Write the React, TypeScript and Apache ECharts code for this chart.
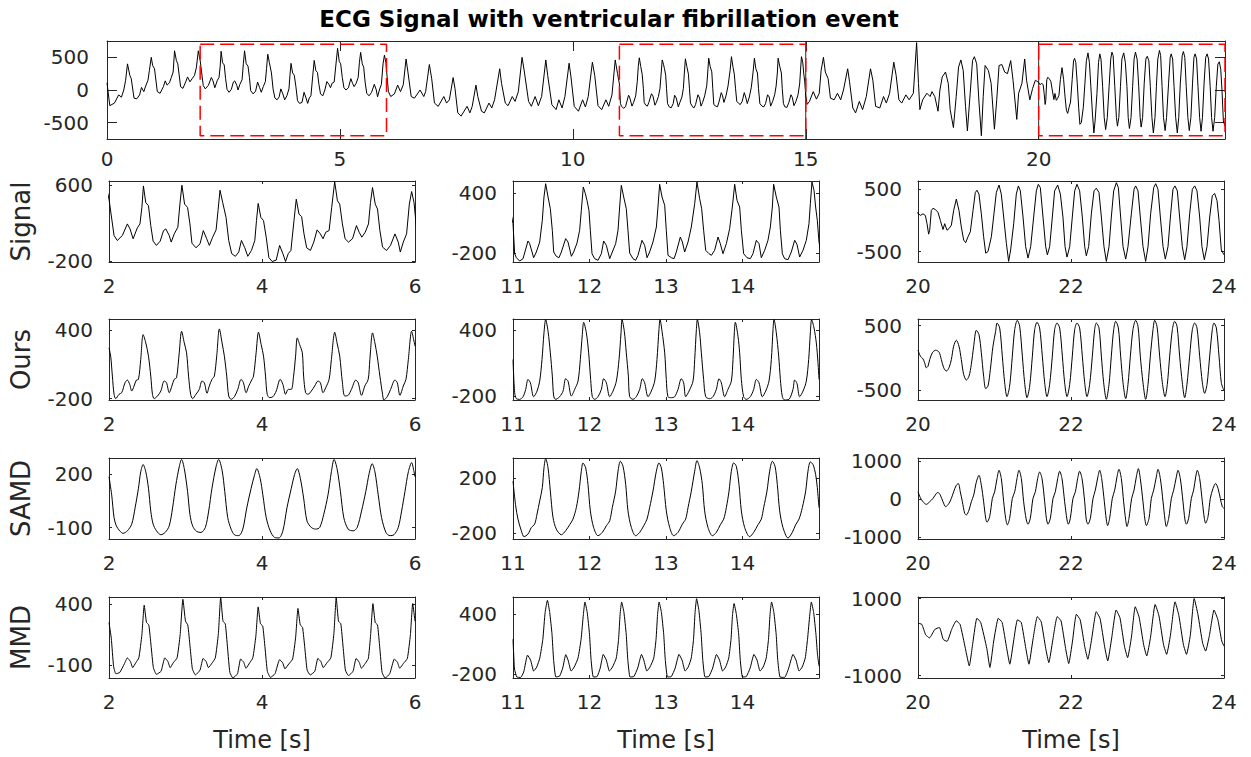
import { useEffect, useRef } from "react";
import * as echarts from "echarts";

type Pt = [number, number];

// Recorded ECG, 0–24 s (time [s], amplitude)
const signal: Pt[] = [
  [0.00,110],[0.06,-240],[0.16,-200],[0.25,-75],[0.31,-110],[0.36,0],[0.40,150],[0.44,400],[0.49,225],[0.52,175],
  [0.58,-125],[0.64,-135],[0.70,-75],[0.74,40],[0.79,-25],[0.83,60],[0.88,150],[0.91,300],[0.95,500],[0.98,375],
  [1.02,325],[1.08,-25],[1.14,-50],[1.21,50],[1.25,140],[1.29,75],[1.34,110],[1.38,190],[1.42,275],[1.45,600],
  [1.49,450],[1.52,400],[1.58,50],[1.63,25],[1.69,125],[1.73,200],[1.78,125],[1.83,175],[1.88,225],[1.92,350],[1.96,600],
  [2.000,453],[2.066,69],[2.109,17],[2.175,70],[2.24,192],[2.275,139],[2.315,35],[2.37,150],[2.405,192],[2.43,366],
  [2.45,593],[2.48,418],[2.516,384],[2.546,174],[2.577,10],[2.62,-35],[2.669,10],[2.713,122],[2.743,139],[2.787,70],
  [2.813,0],[2.853,87],[2.90,157],[2.927,401],[2.953,600],[2.988,401],[3.027,366],[3.058,192],[3.084,-11],[3.137,-60],
  [3.19,-18],[3.233,122],[3.277,35],[3.312,-35],[3.355,52],[3.40,129],[3.425,331],[3.451,548],[3.486,419],[3.53,261],
  [3.565,17],[3.604,-122],[3.652,-150],[3.696,-105],[3.731,17],[3.775,-60],[3.814,-150],[3.862,-88],[3.906,17],[3.928,227],
  [3.95,408],[3.985,261],[4.02,227],[4.055,52],[4.09,-164],[4.133,-205],[4.186,-190],[4.23,-35],[4.273,-122],[4.308,-205],
  [4.343,-122],[4.378,-88],[4.418,227],[4.448,453],[4.483,296],[4.518,268],[4.549,87],[4.584,-60],[4.633,-88],[4.677,0],
  [4.72,129],[4.763,87],[4.798,35],[4.833,104],[4.877,122],[4.911,366],[4.95,638],[4.986,436],[5.016,401],[5.051,192],
  [5.086,35],[5.13,0],[5.183,35],[5.235,174],[5.27,104],[5.305,52],[5.349,104],[5.392,192],[5.418,418],[5.445,576],
  [5.48,401],[5.51,349],[5.541,122],[5.576,-53],[5.628,-88],[5.68,-35],[5.738,87],[5.781,0],[5.808,-105],[5.847,0],
  [5.89,87],[5.926,401],[5.956,534],[5.987,419],[6.04,-20],[6.09,-100],[6.17,-60],[6.24,75],[6.30,-25],[6.36,80],
  [6.42,475],[6.46,275],[6.53,-100],[6.60,-125],[6.72,0],[6.80,-100],[6.84,-25],[6.92,390],[6.97,175],[7.03,-200],
  [7.11,-250],[7.23,-100],[7.29,-200],[7.35,-150],[7.43,190],[7.47,25],[7.53,-350],[7.60,-400],[7.73,-250],[7.79,-350],
  [7.84,-250],[7.92,75],[7.96,-100],[8.04,-325],[8.10,-350],[8.20,-200],[8.26,-275],[8.32,-150],[8.43,325],[8.47,100],
  [8.55,-200],[8.61,-240],[8.70,-100],[8.76,-175],[8.83,-25],[8.91,500],[8.96,275],[9.05,-175],[9.11,-250],[9.19,-100],
  [9.26,-240],[9.33,-100],[9.42,460],[9.46,225],[9.55,-225],[9.64,-300],[9.70,-150],[9.77,-275],[9.83,-100],[9.92,410],
  [9.96,200],[10.03,-250],[10.12,-325],[10.21,-150],[10.27,-260],[10.33,-100],[10.42,425],[10.47,225],[10.54,-240],[10.62,-300],
  [10.71,-150],[10.77,-250],[10.84,-75],[10.91,460],[10.96,250],
  [11.000,93],[11.022,-207],[11.044,-247],[11.087,-280],[11.131,-257],[11.196,-80],[11.218,-107],[11.270,-247],[11.305,-190],[11.349,-90],
  [11.383,127],[11.405,360],[11.427,493],[11.458,360],[11.488,243],[11.514,27],[11.532,-190],[11.566,-233],[11.601,-247],[11.632,-190],
  [11.688,-57],[11.719,-90],[11.763,-233],[11.793,-190],[11.837,-100],[11.871,27],[11.893,227],[11.919,460],[11.946,393],[11.967,327],
  [11.993,227],[12.011,27],[12.033,-207],[12.068,-257],[12.111,-273],[12.155,-207],[12.185,-80],[12.220,-123],[12.264,-257],[12.298,-190],
  [12.342,-107],[12.373,27],[12.394,260],[12.416,477],[12.447,360],[12.481,243],[12.503,27],[12.525,-200],[12.569,-257],[12.603,-273],
  [12.634,-223],[12.686,-73],[12.721,-123],[12.752,-247],[12.786,-190],[12.830,-90],[12.874,60],[12.895,260],[12.917,487],[12.948,360],
  [12.983,277],[13.004,27],[13.026,-223],[13.070,-247],[13.105,-257],[13.135,-190],[13.187,-40],[13.214,-90],[13.244,-190],[13.288,-90],
  [13.331,60],[13.375,293],[13.405,510],[13.440,343],[13.466,243],[13.492,27],[13.519,-173],[13.562,-207],[13.593,-223],[13.636,-173],
  [13.680,-40],[13.710,-107],[13.745,-207],[13.789,-107],[13.832,43],[13.867,260],[13.898,487],[13.928,327],[13.963,260],[13.985,27],
  [14.015,-207],[14.059,-247],[14.102,-257],[14.137,-207],[14.181,-73],[14.216,-107],[14.246,-247],[14.290,-173],[14.333,-73],[14.364,60],
  [14.390,260],[14.407,487],[14.442,360],[14.477,260],[14.495,27],[14.521,-207],[14.551,-257],[14.595,-267],[14.638,-190],[14.682,-73],
  [14.712,-113],[14.747,-240],[14.791,-173],[14.834,-73],[14.869,93],[14.887,293],[14.908,510],[14.935,427],[14.956,260],[14.978,127],
  [15.000,-90],[15.03,-220],[15.08,-175],[15.16,-25],[15.23,-140],[15.29,-50],[15.33,300],[15.38,500],[15.42,275],[15.48,175],
  [15.53,-125],[15.61,-150],[15.68,-50],[15.75,-150],[15.81,0],[15.90,325],[15.94,125],[16.01,-275],[16.07,-350],[16.15,-175],
  [16.22,-300],[16.30,-100],[16.39,325],[16.44,150],[16.50,-250],[16.59,-275],[16.67,-100],[16.73,-200],[16.80,-50],[16.89,425],
  [16.94,225],[17.00,-150],[17.06,-200],[17.15,-75],[17.22,-150],[17.31,-50],[17.38,725],[17.42,100],[17.45,-300],[17.51,-150],
  [17.60,-50],[17.67,-100],[17.71,-25],[17.77,-100],[17.84,-325],[17.88,0],[17.93,200],[18.00,275],[18.06,100],[18.10,-300],
  [18.17,-575],[18.23,-100],[18.28,350],[18.33,460],[18.38,300],[18.43,-250],[18.47,-625],[18.53,-50],[18.58,450],[18.62,510],
  [18.67,400],[18.72,-200],[18.77,-700],[18.81,-100],[18.85,375],[18.92,300],[18.98,100],[19.05,-600],[19.10,-150],[19.15,375],
  [19.21,390],[19.27,275],[19.33,250],[19.40,450],[19.45,150],[19.53,-450],[19.57,-50],[19.64,100],[19.70,475],[19.74,150],
  [19.81,-150],[19.87,25],[19.93,150],
  [20.000,116],[20.031,79],[20.065,105],[20.096,79],[20.118,-53],[20.139,-221],[20.153,-158],[20.174,158],[20.196,195],[20.231,168],
  [20.261,132],[20.292,0],[20.327,-147],[20.349,-53],[20.379,-158],[20.405,-132],[20.436,-79],[20.466,158],[20.501,342],[20.536,158],
  [20.566,-105],[20.597,-316],[20.623,-358],[20.654,-263],[20.684,-184],[20.719,158],[20.749,447],[20.771,484],[20.797,421],[20.828,105],
  [20.858,-263],[20.885,-526],[20.915,-500],[20.959,-263],[20.993,105],[21.024,447],[21.059,568],[21.089,421],[21.120,53],[21.155,-368],
  [21.185,-658],[21.211,-474],[21.251,-53],[21.285,421],[21.312,553],[21.338,474],[21.373,53],[21.407,-421],[21.438,-605],[21.473,-421],
  [21.512,53],[21.547,474],[21.573,579],[21.599,526],[21.634,53],[21.669,-421],[21.691,-553],[21.721,-421],[21.756,53],[21.786,474],
  [21.826,568],[21.861,421],[21.895,53],[21.922,-421],[21.948,-589],[21.983,-421],[22.017,53],[22.048,474],[22.078,579],[22.113,474],
  [22.148,53],[22.179,-421],[22.200,-568],[22.231,-421],[22.266,105],[22.301,474],[22.331,516],[22.366,447],[22.397,53],[22.431,-421],
  [22.462,-658],[22.497,-421],[22.527,53],[22.558,474],[22.593,605],[22.619,526],[22.649,53],[22.680,-421],[22.715,-621],[22.745,-421],
  [22.789,105],[22.824,500],[22.845,553],[22.876,474],[22.906,53],[22.941,-421],[22.976,-658],[23.007,-421],[23.041,105],[23.081,526],
  [23.107,589],[23.137,500],[23.168,53],[23.203,-421],[23.233,-621],[23.268,-421],[23.303,105],[23.333,500],[23.359,553],[23.390,474],
  [23.420,53],[23.455,-421],[23.486,-632],[23.516,-421],[23.551,105],[23.586,500],[23.617,553],[23.647,474],[23.682,53],[23.712,-421],
  [23.743,-632],[23.778,-421],[23.813,53],[23.847,395],[23.878,432],[23.909,316],[23.935,0],[23.965,-474],[24.000,-553],
];

// "Ours" reconstruction, one array per window
const oursA: Pt[] = [
  [2.000,246],[2.022,173],[2.044,-2],[2.066,-162],[2.087,-200],[2.131,-162],[2.166,-148],[2.210,-60],[2.240,-37],[2.271,-75],
  [2.297,-133],[2.328,-89],[2.358,-37],[2.385,-31],[2.415,144],[2.446,362],[2.481,289],[2.516,173],[2.546,-2],[2.568,-162],
  [2.590,-200],[2.634,-177],[2.678,-133],[2.721,-46],[2.752,-60],[2.787,-148],[2.822,-89],[2.852,-31],[2.883,-17],[2.918,202],
  [2.949,391],[2.984,289],[3.014,202],[3.040,-2],[3.067,-162],[3.093,-200],[3.137,-162],[3.180,-119],[3.215,-46],[3.246,-60],
  [3.281,-153],[3.311,-89],[3.346,-31],[3.377,-2],[3.408,173],[3.443,412],[3.478,289],[3.508,173],[3.539,-2],[3.565,-177],
  [3.596,-206],[3.639,-183],[3.683,-119],[3.727,-31],[3.757,-60],[3.792,-148],[3.827,-89],[3.858,-46],[3.889,-2],[3.923,202],
  [3.954,383],[3.989,275],[4.020,173],[4.046,-2],[4.068,-162],[4.098,-191],[4.142,-183],[4.186,-133],[4.238,-31],[4.273,-75],
  [4.308,-162],[4.343,-119],[4.383,-119],[4.413,-2],[4.439,173],[4.461,333],[4.492,275],[4.527,202],[4.544,-2],[4.570,-148],
  [4.601,-162],[4.645,-133],[4.689,-89],[4.732,-46],[4.763,-60],[4.798,-148],[4.833,-104],[4.877,-31],[4.907,144],[4.951,383],
  [4.981,289],[5.016,173],[5.051,-60],[5.082,-177],[5.126,-171],[5.169,-119],[5.226,-37],[5.257,-60],[5.301,-171],[5.344,-89],
  [5.388,-31],[5.410,144],[5.445,377],[5.476,289],[5.506,173],[5.541,-2],[5.576,-162],[5.593,-212],[5.637,-183],[5.681,-119],
  [5.738,-37],[5.768,-60],[5.803,-171],[5.847,-89],[5.882,-31],[5.913,144],[5.956,391],[5.987,304],[6.000,260],
];
const oursB: Pt[] = [
  [11.000,133],[11.022,-170],[11.044,-224],[11.087,-230],[11.131,-206],[11.166,-139],[11.196,-48],[11.227,-79],[11.270,-206],[11.314,-155],
  [11.349,-64],[11.379,133],[11.405,376],[11.427,497],[11.458,391],[11.488,194],[11.514,-18],[11.532,-200],[11.558,-230],[11.610,-206],
  [11.654,-155],[11.688,-42],[11.719,-64],[11.763,-200],[11.806,-139],[11.850,-64],[11.880,133],[11.906,361],[11.924,473],[11.959,376],
  [11.989,194],[12.015,-48],[12.037,-206],[12.068,-230],[12.111,-206],[12.155,-139],[12.185,-42],[12.220,-79],[12.264,-206],[12.307,-155],
  [12.351,-64],[12.386,133],[12.412,376],[12.425,497],[12.455,391],[12.481,194],[12.508,-18],[12.525,-206],[12.569,-230],[12.612,-206],
  [12.656,-139],[12.691,-42],[12.721,-79],[12.765,-206],[12.808,-155],[12.852,-64],[12.882,133],[12.908,406],[12.922,497],[12.948,391],
  [12.983,194],[13.004,-48],[13.026,-206],[13.070,-215],[13.113,-206],[13.157,-139],[13.200,-42],[13.231,-79],[13.257,-206],[13.301,-155],
  [13.353,-64],[13.375,133],[13.397,406],[13.410,497],[13.440,376],[13.462,194],[13.492,-48],[13.519,-206],[13.571,-224],[13.614,-206],
  [13.658,-139],[13.693,-42],[13.723,-79],[13.767,-206],[13.810,-139],[13.854,-64],[13.876,133],[13.893,376],[13.906,473],[13.941,345],
  [13.963,194],[13.985,-48],[14.015,-206],[14.050,-230],[14.102,-206],[14.146,-139],[14.181,-48],[14.216,-79],[14.259,-206],[14.303,-155],
  [14.346,-64],[14.377,133],[14.399,406],[14.412,497],[14.442,376],[14.473,164],[14.495,-48],[14.521,-206],[14.551,-236],[14.608,-230],
  [14.660,-139],[14.682,-54],[14.712,-85],[14.747,-206],[14.791,-155],[14.834,-64],[14.865,133],[14.887,376],[14.904,497],[14.935,421],
  [14.965,285],[14.987,103],[15.000,-48],
];
const oursC: Pt[] = [
  [20.000,119],[20.031,26],[20.065,-16],[20.087,-77],[20.109,-155],[20.131,-129],[20.153,-26],[20.187,77],[20.231,119],[20.275,88],
  [20.305,-26],[20.336,-155],[20.370,-206],[20.405,-155],[20.436,-26],[20.466,180],[20.501,273],[20.536,180],[20.566,-26],[20.597,-258],
  [20.632,-345],[20.667,-284],[20.697,-103],[20.728,180],[20.763,428],[20.797,361],[20.828,77],[20.858,-284],[20.885,-479],[20.915,-438],
  [20.946,-180],[20.980,180],[21.015,412],[21.033,541],[21.068,464],[21.102,26],[21.133,-387],[21.163,-603],[21.198,-438],[21.233,26],
  [21.264,438],[21.298,582],[21.329,490],[21.364,26],[21.394,-387],[21.425,-619],[21.460,-438],[21.495,26],[21.525,438],[21.556,552],
  [21.590,464],[21.625,26],[21.656,-387],[21.686,-603],[21.721,-412],[21.756,26],[21.786,438],[21.817,541],[21.852,464],[21.887,26],
  [21.917,-387],[21.948,-603],[21.983,-412],[22.017,26],[22.048,438],[22.078,541],[22.113,464],[22.148,26],[22.179,-387],[22.209,-603],
  [22.244,-412],[22.279,26],[22.309,438],[22.331,541],[22.366,464],[22.397,26],[22.427,-387],[22.462,-644],[22.497,-412],[22.527,26],
  [22.558,438],[22.584,567],[22.619,464],[22.649,26],[22.680,-387],[22.715,-634],[22.745,-412],[22.776,26],[22.810,438],[22.845,582],
  [22.876,490],[22.906,26],[22.941,-387],[22.976,-644],[23.007,-412],[23.037,26],[23.072,438],[23.094,582],[23.124,490],[23.159,26],
  [23.194,-387],[23.229,-603],[23.259,-412],[23.290,26],[23.325,438],[23.355,567],[23.386,490],[23.420,26],[23.455,-387],[23.486,-619],
  [23.516,-412],[23.551,26],[23.586,438],[23.617,541],[23.647,464],[23.682,26],[23.717,-387],[23.747,-552],[23.778,-412],[23.813,26],
  [23.847,438],[23.869,541],[23.900,464],[23.935,26],[23.965,-387],[23.996,-500],
];

// SAMD reconstruction
const samdA: Pt[] = [
  [2.000,187],[2.035,85],[2.066,-44],[2.096,-91],[2.140,-119],[2.184,-133],[2.240,-119],[2.297,-81],[2.341,11],[2.385,122],
  [2.415,215],[2.446,256],[2.481,215],[2.516,122],[2.546,-7],[2.577,-81],[2.621,-119],[2.678,-141],[2.734,-128],[2.787,-91],
  [2.831,11],[2.874,141],[2.918,243],[2.949,285],[2.984,233],[3.027,104],[3.058,-26],[3.093,-91],[3.145,-122],[3.202,-128],
  [3.259,-100],[3.303,-7],[3.346,122],[3.399,243],[3.434,285],[3.478,224],[3.513,104],[3.552,-44],[3.596,-109],[3.639,-141],
  [3.696,-146],[3.749,-109],[3.801,11],[3.858,122],[3.902,196],[3.932,233],[3.976,178],[4.011,85],[4.055,-44],[4.107,-119],
  [4.164,-156],[4.221,-159],[4.273,-119],[4.326,11],[4.383,122],[4.426,200],[4.461,233],[4.501,178],[4.544,67],[4.588,-63],
  [4.645,-100],[4.702,-109],[4.754,-100],[4.807,-26],[4.863,85],[4.907,215],[4.942,285],[4.981,233],[5.025,104],[5.069,-44],
  [5.126,-109],[5.191,-119],[5.244,-100],[5.301,-7],[5.357,104],[5.401,206],[5.440,261],[5.476,215],[5.519,85],[5.563,-44],
  [5.620,-128],[5.672,-146],[5.725,-141],[5.781,-100],[5.825,-7],[5.869,104],[5.913,215],[5.956,267],[5.987,215],[6.000,187],
];
const samdB: Pt[] = [
  [11.000,181],[11.035,0],[11.065,-96],[11.109,-181],[11.144,-224],[11.196,-205],[11.240,-157],[11.283,-133],[11.314,-60],[11.349,36],
  [11.383,133],[11.405,277],[11.427,345],[11.458,277],[11.488,108],[11.523,-84],[11.566,-169],[11.632,-210],[11.688,-181],[11.741,-137],
  [11.784,-96],[11.828,-12],[11.863,108],[11.893,253],[11.915,313],[11.950,277],[11.980,157],[12.011,-36],[12.054,-157],[12.111,-217],
  [12.168,-193],[12.220,-145],[12.264,-108],[12.298,-12],[12.342,108],[12.373,253],[12.403,325],[12.438,289],[12.473,157],[12.503,-36],
  [12.547,-157],[12.603,-217],[12.656,-193],[12.708,-145],[12.752,-96],[12.786,-12],[12.830,108],[12.874,253],[12.908,313],[12.939,277],
  [12.969,157],[13.004,-36],[13.048,-157],[13.100,-217],[13.157,-193],[13.214,-133],[13.257,-96],[13.288,-12],[13.331,108],[13.375,253],
  [13.405,330],[13.440,277],[13.475,157],[13.505,-36],[13.549,-157],[13.606,-217],[13.658,-193],[13.710,-137],[13.754,-96],[13.789,-12],
  [13.824,108],[13.854,253],[13.885,313],[13.919,289],[13.954,157],[13.985,-36],[14.028,-157],[14.094,-224],[14.146,-193],[14.203,-137],
  [14.246,-96],[14.277,-12],[14.320,108],[14.355,253],[14.390,325],[14.425,289],[14.455,157],[14.486,-36],[14.529,-157],[14.595,-234],
  [14.651,-193],[14.695,-137],[14.739,-96],[14.782,-12],[14.826,108],[14.856,253],[14.887,320],[14.922,301],[14.956,229],[14.978,133],
  [15.000,-12],
];
const samdC: Pt[] = [
  [20.000,191],[20.031,35],[20.065,-70],[20.109,-139],[20.153,-70],[20.196,17],[20.240,148],[20.261,174],[20.292,104],[20.327,-70],
  [20.362,-200],[20.405,-113],[20.436,17],[20.466,191],[20.501,365],[20.527,409],[20.553,191],[20.580,-70],[20.610,-374],[20.632,-418],
  [20.667,-287],[20.697,-70],[20.728,104],[20.763,452],[20.797,626],[20.828,365],[20.858,-70],[20.885,-505],[20.902,-609],[20.937,-461],
  [20.972,17],[21.002,191],[21.033,539],[21.059,757],[21.089,539],[21.120,-70],[21.146,-505],[21.168,-679],[21.198,-505],[21.233,17],
  [21.264,191],[21.294,539],[21.320,757],[21.351,539],[21.381,-70],[21.416,-548],[21.438,-661],[21.468,-505],[21.503,17],[21.534,191],
  [21.564,539],[21.590,713],[21.621,539],[21.656,-70],[21.678,-505],[21.699,-661],[21.730,-505],[21.765,17],[21.795,191],[21.826,539],
  [21.852,731],[21.882,539],[21.917,-70],[21.948,-548],[21.965,-661],[21.991,-505],[22.026,17],[22.057,191],[22.087,539],[22.113,731],
  [22.144,539],[22.179,-70],[22.200,-548],[22.222,-661],[22.253,-505],[22.288,17],[22.318,235],[22.349,557],[22.375,757],[22.401,539],
  [22.436,-70],[22.462,-548],[22.479,-696],[22.505,-505],[22.540,17],[22.571,235],[22.601,583],[22.627,783],[22.658,539],[22.688,-70],
  [22.715,-548],[22.732,-722],[22.758,-505],[22.793,17],[22.824,235],[22.854,583],[22.880,800],[22.906,539],[22.941,-70],[22.967,-548],
  [22.985,-696],[23.020,-505],[23.050,17],[23.081,235],[23.115,583],[23.137,783],[23.168,539],[23.203,-70],[23.229,-548],[23.246,-722],
  [23.277,-505],[23.312,17],[23.342,235],[23.377,583],[23.399,757],[23.429,539],[23.464,-70],[23.490,-548],[23.508,-661],[23.538,-505],
  [23.573,17],[23.603,235],[23.630,583],[23.651,757],[23.682,539],[23.717,-70],[23.743,-505],[23.760,-635],[23.791,-461],[23.821,17],
  [23.856,278],[23.891,409],[23.922,278],[23.952,17],[23.978,-200],[24.000,-244],
];

// MMD reconstruction
const mmdA: Pt[] = [
  [2.00,250],[2.03,120],[2.06,-110],[2.09,-170],[2.14,-160],[2.20,-90],[2.24,-40],[2.28,-70],[2.31,-120],[2.35,-80],
  [2.39,-40],[2.43,150],[2.46,392],[2.49,250],[2.52,230],[2.55,60],[2.58,-120],[2.62,-175],[2.68,-150],[2.73,-40],
  [2.77,-70],[2.80,-120],[2.84,-80],[2.89,-40],[2.93,150],[2.966,440],[3.00,260],[3.03,230],[3.06,50],[3.09,-130],
  [3.13,-180],[3.19,-140],[3.23,-45],[3.27,-70],[3.30,-120],[3.35,-80],[3.39,-40],[3.43,160],[3.46,459],[3.49,260],
  [3.52,240],[3.55,40],[3.58,-160],[3.62,-205],[3.68,-170],[3.72,-50],[3.76,-75],[3.79,-125],[3.84,-80],[3.88,-40],
  [3.92,140],[3.95,378],[3.98,240],[4.01,220],[4.04,40],[4.07,-150],[4.11,-200],[4.17,-170],[4.23,-55],[4.27,-80],
  [4.30,-130],[4.35,-90],[4.40,-50],[4.44,130],[4.47,365],[4.50,230],[4.53,210],[4.56,40],[4.59,-140],[4.63,-180],
  [4.69,-150],[4.73,-45],[4.77,-70],[4.80,-120],[4.85,-80],[4.90,-40],[4.94,160],[4.97,454],[5.00,260],[5.03,240],
  [5.06,50],[5.09,-140],[5.13,-185],[5.19,-150],[5.23,-45],[5.27,-75],[5.30,-125],[5.35,-85],[5.39,-45],[5.42,150],
  [5.45,405],[5.48,250],[5.51,230],[5.54,40],[5.57,-160],[5.61,-205],[5.67,-170],[5.73,-50],[5.77,-75],[5.80,-125],
  [5.85,-85],[5.90,-45],[5.94,150],[5.97,405],[6.00,260],
];
const mmdB: Pt[] = [
  [11.00,150],[11.02,-150],[11.05,-230],[11.10,-234],[11.14,-180],[11.19,-10],[11.23,-60],[11.27,-170],[11.31,-130],[11.35,-40],
  [11.39,150],[11.42,420],[11.45,542],[11.48,420],[11.51,200],[11.53,-50],[11.56,-230],[11.61,-220],[11.65,-140],[11.69,-5],
  [11.72,-60],[11.76,-170],[11.80,-130],[11.85,-40],[11.89,150],[11.92,400],[11.94,525],[11.97,420],[12.00,200],[12.02,-50],
  [12.05,-230],[12.10,-225],[12.14,-140],[12.18,-3],[12.22,-60],[12.26,-170],[12.30,-130],[12.35,-40],[12.38,150],[12.40,400],
  [12.42,525],[12.45,420],[12.48,200],[12.50,-50],[12.53,-230],[12.58,-225],[12.63,-140],[12.68,-3],[12.71,-60],[12.75,-170],
  [12.79,-130],[12.84,-40],[12.87,150],[12.89,400],[12.91,525],[12.94,420],[12.97,200],[12.99,-50],[13.02,-230],[13.07,-225],
  [13.12,-140],[13.17,-3],[13.21,-60],[13.25,-170],[13.29,-130],[13.33,-40],[13.36,150],[13.38,420],[13.40,558],[13.43,440],
  [13.46,200],[13.48,-50],[13.51,-230],[13.56,-225],[13.61,-140],[13.66,-3],[13.70,-60],[13.74,-170],[13.78,-130],[13.82,-40],
  [13.85,150],[13.87,400],[13.89,509],[13.92,400],[13.95,200],[13.97,-50],[14.00,-230],[14.05,-225],[14.10,-140],[14.15,-3],
  [14.19,-60],[14.23,-170],[14.27,-130],[14.31,-40],[14.34,150],[14.36,400],[14.38,525],[14.41,420],[14.44,200],[14.46,-50],
  [14.49,-230],[14.55,-234],[14.60,-150],[14.66,-3],[14.70,-60],[14.74,-170],[14.78,-130],[14.82,-40],[14.85,150],[14.88,400],
  [14.90,525],[14.93,420],[14.96,200],[14.98,0],[15.00,-120],
];
const mmdC: Pt[] = [
  [20.00,360],[20.05,330],[20.10,60],[20.15,-20],[20.22,200],[20.28,250],[20.33,-60],[20.38,-110],[20.44,200],[20.50,421],
  [20.55,330],[20.62,-300],[20.67,-745],[20.72,-100],[20.77,489],[20.82,380],[20.90,-300],[20.94,-787],[20.99,-100],[21.05,489],
  [21.10,380],[21.16,-300],[21.20,-702],[21.25,-100],[21.30,447],[21.35,380],[21.41,-300],[21.45,-702],[21.50,-100],[21.56,532],
  [21.61,400],[21.67,-300],[21.71,-660],[21.76,-100],[21.82,532],[21.87,420],[21.93,-300],[21.97,-685],[22.02,-100],[22.07,591],
  [22.12,450],[22.18,-250],[22.22,-574],[22.27,-50],[22.33,660],[22.38,480],[22.44,-250],[22.48,-617],[22.53,-50],[22.59,702],
  [22.64,500],[22.70,-250],[22.74,-532],[22.79,0],[22.84,787],[22.89,520],[22.95,-200],[22.99,-489],[23.04,0],[23.10,847],
  [23.15,550],[23.21,-200],[23.25,-447],[23.30,50],[23.36,915],[23.41,560],[23.47,-200],[23.51,-447],[23.56,50],[23.61,1000],
  [23.66,580],[23.72,-150],[23.76,-362],[23.81,50],[23.87,702],[23.92,450],[23.97,-100],[24.00,-234],
];

// Zoom windows [s] and their tick labels
const windows: [number, number][] = [[2, 6], [11, 15], [20, 24]];
const windowTicks: number[][] = [[2, 4, 6], [11, 12, 13, 14], [20, 22, 24]];
const overviewTicksX = [0, 5, 10, 15, 20];
const overviewTicksY = [-500, 0, 500];
const boxLimit = 700;

const rowNames = ["Signal", "Ours", "SAMD", "MMD"];
const rowSeries: Pt[][][] = [
  [signal, signal, signal],
  [oursA, oursB, oursC],
  [samdA, samdB, samdC],
  [mmdA, mmdB, mmdC],
];
const panelYMin = [[-210, -290, -668], [-212, -236, -655], [-165, -241, -1050], [-205, -240, -1060]];
const panelYMax = [[645, 520, 632], [499, 503, 603], [293, 349, 1080], [459, 575, 1040]];
const panelYTicks: number[][][] = [
  [[-200, 600], [-200, 400], [-500, 500]],
  [[-200, 400], [-200, 400], [-500, 500]],
  [[-100, 200], [-200, 200], [-1000, 0, 1000]],
  [[-100, 400], [-200, 400], [-1000, 1000]],
];
const rowSmooth = [0, 0.3, 0.3, 0.15];

const INK = "#262626";
const FONT = "DejaVu Sans";

export default function App() {
  const ref = useRef<HTMLDivElement>(null);

  useEffect(() => {
    if (!ref.current) return;
    const chart = echarts.init(ref.current, undefined, { renderer: "svg" });

    const colLeft = [109, 513, 918];
    const colWidth = 306;
    const rowTop = [181, 319, 458, 597];
    const rowHeight = 81;

    const grids: any[] = [];
    const xAxes: any[] = [];
    const yAxes: any[] = [];
    const series: any[] = [];
    const plain = (v: number) => String(v);

    const addFrame = (
      rect: { left: number; top: number; width: number; height: number },
      xr: [number, number], yr: [number, number],
      xt: number[], yt: number[], tickLen: number, xMargin: number, yMargin: number
    ) => {
      const g = grids.length;
      grids.push({ ...rect, containLabel: false });
      const line = { show: true, onZero: false, lineStyle: { color: INK, width: 1 } };
      const lbl = { fontFamily: FONT, fontSize: 20, color: INK, formatter: plain };
      const tick = (vals: number[]) => ({
        show: true, inside: true, length: tickLen, customValues: vals, lineStyle: { color: INK },
      });
      xAxes.push({
        type: "value", gridIndex: g, position: "bottom", min: xr[0], max: xr[1],
        axisLine: line, splitLine: { show: false }, axisTick: tick(xt),
        axisLabel: { ...lbl, margin: xMargin, customValues: xt },
      });
      xAxes.push({
        type: "value", gridIndex: g, position: "top", min: xr[0], max: xr[1],
        axisLine: line, splitLine: { show: false }, axisTick: tick(xt), axisLabel: { show: false },
      });
      yAxes.push({
        type: "value", gridIndex: g, position: "left", min: yr[0], max: yr[1],
        axisLine: line, splitLine: { show: false }, axisTick: tick(yt),
        axisLabel: { ...lbl, margin: yMargin, customValues: yt },
      });
      yAxes.push({
        type: "value", gridIndex: g, position: "right", min: yr[0], max: yr[1],
        axisLine: line, splitLine: { show: false }, axisTick: tick(yt), axisLabel: { show: false },
      });
      return g;
    };

    // Overview of the full recording
    const g0 = addFrame({ left: 107, top: 41, width: 1118, height: 98 }, [0, 24], [-750, 750],
      overviewTicksX, overviewTicksY, 10, 10, 18);
    series.push({
      type: "line", data: signal, xAxisIndex: 2 * g0, yAxisIndex: 2 * g0, showSymbol: false, silent: true,
      lineStyle: { color: "#000", width: 1 }, z: 3,
    });
    [15, 20].forEach((t) => {
      series.push({
        type: "line", data: [[t, -750], [t, 750]], xAxisIndex: 2 * g0, yAxisIndex: 2 * g0, showSymbol: false,
        silent: true, lineStyle: { color: INK, width: 1 }, z: 2,
      });
    });
    windows.forEach(([a, b]) => {
      series.push({
        type: "line",
        data: [[a, boxLimit], [b, boxLimit], [b, -boxLimit], [a, -boxLimit], [a, boxLimit]],
        xAxisIndex: 2 * g0, yAxisIndex: 2 * g0, showSymbol: false, silent: true, clip: false,
        lineStyle: { color: "#ff0000", width: 1.5, type: [14, 6] }, z: 4,
      });
    });

    // Zoomed windows: one row per method
    rowSeries.forEach((cols, r) => {
      cols.forEach((data, c) => {
        const g = addFrame(
          { left: colLeft[c], top: rowTop[r], width: colWidth, height: rowHeight },
          windows[c], [panelYMin[r][c], panelYMax[r][c]],
          windowTicks[c], panelYTicks[r][c], 3, 14, 16
        );
        series.push({
          type: "line", data, xAxisIndex: 2 * g, yAxisIndex: 2 * g, showSymbol: false, silent: true,
          smooth: rowSmooth[r], lineStyle: { color: "#000", width: 1 }, clip: true,
        });
      });
    });

    const graphic: any[] = [
      {
        type: "text", x: 609, y: 19,
        style: {
          text: "ECG Signal with ventricular fibrillation event", fill: "#000",
          font: `bold 23px "${FONT}"`, textAlign: "center", textVerticalAlign: "middle",
        },
      },
    ];
    rowNames.forEach((name, r) => {
      graphic.push({
        type: "text", x: 21, y: rowTop[r] + rowHeight / 2, rotation: Math.PI / 2,
        style: { text: name, fill: INK, font: `26px "${FONT}"`, textAlign: "center", textVerticalAlign: "middle" },
      });
    });
    colLeft.forEach((l) => {
      graphic.push({
        type: "text", x: l + colWidth / 2, y: 740,
        style: { text: "Time [s]", fill: INK, font: `24px "${FONT}"`, textAlign: "center", textVerticalAlign: "middle" },
      });
    });

    chart.setOption({
      animation: false,
      backgroundColor: "#ffffff",
      grid: grids,
      xAxis: xAxes,
      yAxis: yAxes,
      series,
      graphic,
    });

    return () => chart.dispose();
  }, []);

  return (
    <div
      ref={ref}
      style={{ position: "fixed", left: 0, top: 0, width: 1251, height: 757, background: "#fff" }}
    />
  );
}
